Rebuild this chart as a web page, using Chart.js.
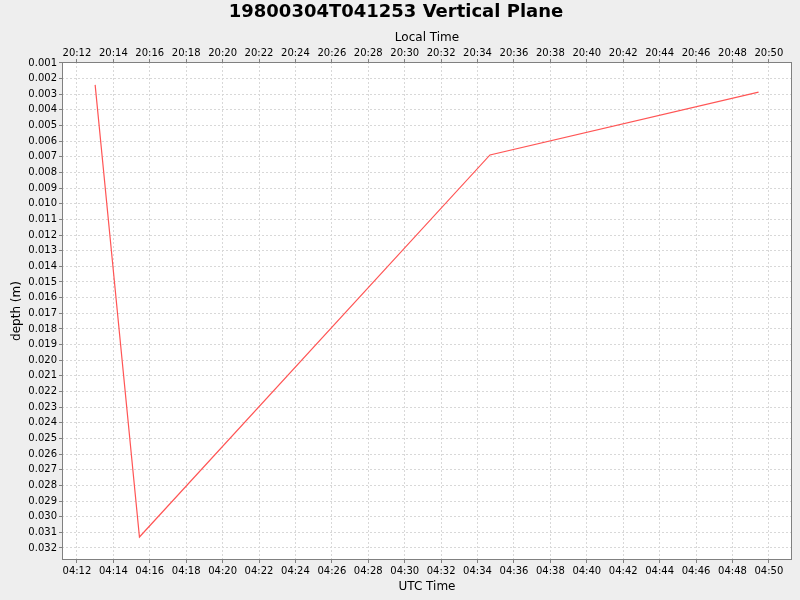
<!DOCTYPE html>
<html>
<head>
  <title>19800304T041253 Vertical Plane</title>
  <script src="https://cdn.jsdelivr.net/npm/chart.js"></script>
  <style>
    body { margin: 0; background: #eeeeee; }
    #depthChart { display: block; }
  </style>
</head>
<body>
<canvas id="depthChart" width="800" height="600"></canvas>
<script>
  // Данные трека (UTC время, глубина в метрах)
  const utcTimes = ['04:13:00', '04:15:26', '04:34:41', '04:49:26'];
  const depths = [0.0024, 0.0313, 0.00688, 0.00287];

  // Подписи осей
  const utcTickLabels = ['04:12', '04:14', '04:16', '04:18', '04:20', '04:22', '04:24', '04:26', '04:28', '04:30',
    '04:32', '04:34', '04:36', '04:38', '04:40', '04:42', '04:44', '04:46', '04:48', '04:50'];
  const localTickLabels = ['20:12', '20:14', '20:16', '20:18', '20:20', '20:22', '20:24', '20:26', '20:28', '20:30',
    '20:32', '20:34', '20:36', '20:38', '20:40', '20:42', '20:44', '20:46', '20:48', '20:50'];
  const depthTicks = [0.001, 0.002, 0.003, 0.004, 0.005, 0.006, 0.007, 0.008, 0.009, 0.010, 0.011, 0.012, 0.013,
    0.014, 0.015, 0.016, 0.017, 0.018, 0.019, 0.020, 0.021, 0.022, 0.023, 0.024, 0.025, 0.026, 0.027, 0.028,
    0.029, 0.030, 0.031, 0.032];

  const timeMin = 11.18, timeMax = 51.27;     // минуты после 04:00 UTC
  const depthMin = 0.00094, depthMax = 0.03277;

  // минуты от 04:00
  function toMinutes(s) {
    const p = s.split(':').map(Number);
    return (p[0] - 4) * 60 + p[1] + (p[2] || 0) / 60;
  }

  const timeTicks = utcTickLabels.map(toMinutes);
  const FONT = 'DejaVu Sans';
  const tickFont = {family: FONT, size: 10};
  const titleFont = {family: FONT, size: 12};

  const plotFrame = {
    id: 'plotFrame',
    beforeDraw(chart) {
      const {ctx, chartArea: a} = chart;
      ctx.save();
      ctx.fillStyle = '#eeeeee';
      ctx.fillRect(0, 0, chart.width, chart.height);
      ctx.fillStyle = '#ffffff';
      ctx.fillRect(a.left, a.top, a.right - a.left, a.bottom - a.top);
      ctx.restore();
    },
    afterDraw(chart) {
      const {ctx, chartArea: a} = chart;
      ctx.save();
      ctx.strokeStyle = '#808080';
      ctx.lineWidth = 1;
      ctx.strokeRect(a.left + 0.5, a.top + 0.5, a.right - a.left - 1, a.bottom - a.top - 1);
      ctx.restore();
    }
  };

  const gridOpts = {color: '#d8d8d8', lineWidth: 1, tickLength: 3, tickColor: '#808080', tickBorderDash: []};

  new Chart(document.getElementById('depthChart').getContext('2d'), {
    type: 'line',
    data: {
      datasets: [{
        data: utcTimes.map((t, i) => ({x: toMinutes(t), y: depths[i]})),
        borderColor: '#ff5555',
        borderWidth: 1.2,
        pointRadius: 0,
        tension: 0,
        fill: false
      }]
    },
    options: {
      responsive: false,
      animation: false,
      layout: {padding: {left: 0, right: 8, top: 0, bottom: 0}},
      plugins: {
        legend: {display: false},
        tooltip: {enabled: false},
        title: {
          display: true,
          text: '19800304T041253 Vertical Plane',
          color: '#000',
          font: {family: FONT, size: 18, weight: 'bold'},
          padding: {top: 2, bottom: 4}
        }
      },
      scales: {
        x: {
          type: 'linear', position: 'bottom', min: timeMin, max: timeMax,
          afterBuildTicks: s => { s.ticks = timeTicks.map(v => ({value: v})); },
          afterFit: s => { s.height = 40; },
          ticks: {callback: (v, i) => utcTickLabels[i], autoSkip: false, maxRotation: 0, padding: 2, color: '#000', font: tickFont},
          grid: gridOpts,
          border: {display: false, dash: [2, 2]},
          title: {display: true, text: 'UTC Time', color: '#000', font: titleFont, padding: {top: 0, bottom: 6}}
        },
        x2: {
          type: 'linear', position: 'top', min: timeMin, max: timeMax,
          afterBuildTicks: s => { s.ticks = timeTicks.map(v => ({value: v})); },
          afterFit: s => { s.height = 34.4; },
          ticks: {callback: (v, i) => localTickLabels[i], autoSkip: false, maxRotation: 0, padding: 0, color: '#000', font: tickFont},
          grid: Object.assign({}, gridOpts, {drawOnChartArea: false}),
          border: {display: false},
          title: {display: true, text: 'Local Time', color: '#000', font: titleFont, padding: {top: 3, bottom: 0}}
        },
        y: {
          type: 'linear', reverse: true, min: depthMin, max: depthMax,
          afterBuildTicks: s => { s.ticks = depthTicks.map(v => ({value: v})); },
          afterFit: s => { s.width = 62; },
          ticks: {callback: v => v.toFixed(3), autoSkip: false, padding: 2, color: '#000', font: tickFont},
          grid: gridOpts,
          border: {display: false, dash: [2, 2]},
          title: {display: true, text: 'depth (m)', color: '#000', font: titleFont, padding: {top: 10, bottom: 0}}
        }
      }
    },
    plugins: [plotFrame]
  });
</script>
</body>
</html>
